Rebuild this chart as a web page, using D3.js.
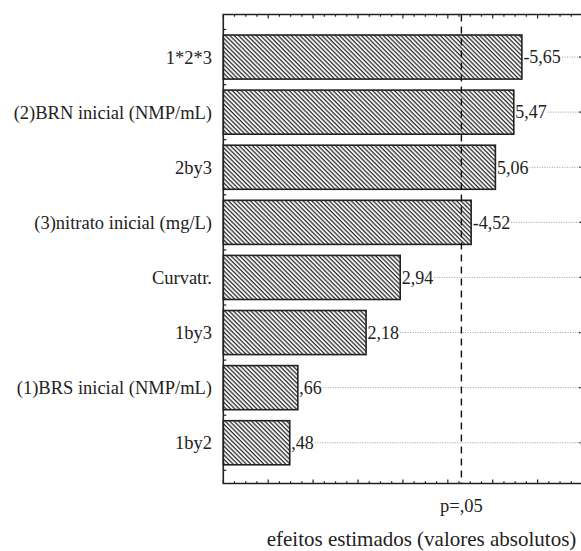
<!DOCTYPE html>
<html>
<head>
<meta charset="utf-8">
<script src="https://cdn.jsdelivr.net/npm/d3@7"></script>
<style>
  html, body { margin: 0; padding: 0; background: #fff; }
  svg { display: block; }
</style>
</head>
<body>
<script>
// ---- data ----
const categories = ["1*2*3", "(2)BRN inicial (NMP/mL)", "2by3", "(3)nitrato inicial (mg/L)",
                    "Curvatr.", "1by3", "(1)BRS inicial (NMP/mL)", "1by2"];
const effects = [-5.65, 5.47, 5.06, -4.52, 2.94, 2.18, 0.66, 0.48];
const pLimit = 4.303;
const pLabel = "p=,05";
const xTitle = "efeitos estimados (valores absolutos)";
const xDomain = [-1, 7];
const tickStep = 0.25;

(function () {
// ---- layout ----
const W = 581, H = 551;
const pL = 223.3, pR = 582.5, pT = 14.5, pB = 483.5;
const FONT = "'Liberation Serif', 'DejaVu Serif', serif";

const svg = d3.select("body").append("svg").attr("width", W).attr("height", H)
  .attr("font-family", FONT).style("font-family", FONT);

const defs = svg.append("defs");
const pat = defs.append("pattern")
  .attr("id", "hatch").attr("patternUnits", "userSpaceOnUse")
  .attr("width", 3.1).attr("height", 3.1)
  .attr("patternTransform", "rotate(-45)");
pat.append("rect").attr("width", 3.1).attr("height", 3.1).attr("fill", "#fff");
pat.append("line").attr("x1", 1).attr("y1", 0).attr("x2", 1).attr("y2", 3.1)
  .attr("stroke", "#2a2a2a").attr("stroke-width", 1.3);

const x = d3.scaleLinear().domain(xDomain).range([pL, pR]);
const y = d3.scaleBand().domain(categories).range([29.5, 470.3])
  .paddingInner(0.2).paddingOuter(0.1);

const fmt = v => {
  let s = Math.abs(v).toFixed(2).replace(".", ",");
  if (s.startsWith("0")) s = s.slice(1);
  return (v < 0 ? "-" : "") + s;
};

// ticks
const ticks = d3.range(xDomain[0], xDomain[1] + 1e-9, tickStep);
const isMajor = t => Math.abs(t - Math.round(t)) < 1e-9;
const tg = svg.append("g").attr("stroke", "#222").attr("stroke-width", 1.2);
ticks.forEach(t => {
  const len = isMajor(t) ? 4 : 2.2;
  tg.append("line").attr("x1", x(t)).attr("x2", x(t)).attr("y1", pT).attr("y2", pT + len);
  tg.append("line").attr("x1", x(t)).attr("x2", x(t)).attr("y1", pB).attr("y2", pB - len);
});
// left ticks at band boundaries
const half = y.step() * y.paddingInner() / 2;
const bounds = categories.map(c => y(c) - half);
bounds.push(y(categories[categories.length - 1]) + y.bandwidth() + half);
bounds.forEach(b => {
  tg.append("line").attr("x1", pL).attr("x2", pL + 3).attr("y1", b).attr("y2", b);
});

// bars
const data = categories.map((c, i) => ({ c, v: effects[i] }));
svg.append("g").selectAll("rect").data(data).join("rect")
  .attr("x", pL)
  .attr("y", d => y(d.c))
  .attr("width", d => x(Math.abs(d.v)) - pL)
  .attr("height", y.bandwidth())
  .attr("fill", "url(#hatch)")
  .attr("stroke", "#222").attr("stroke-width", 1.6);

// value labels + dotted leaders
const lg = svg.append("g");
data.forEach(d => {
  const cy = y(d.c) + y.bandwidth() / 2;
  const t = lg.append("text")
    .attr("x", x(Math.abs(d.v)) + 1.5)
    .attr("y", cy).attr("dy", "0.35em").attr("fill", "#222")
    .attr("font-size", 18).text(fmt(d.v));
  const end = x(Math.abs(d.v)) + 1.5 + t.node().getComputedTextLength() + 1;
  lg.append("line").attr("x1", end).attr("x2", W).attr("y1", cy).attr("y2", cy)
    .attr("stroke", "#9a9a9a").attr("stroke-width", 1).attr("stroke-dasharray", "1,1.5");
  // right-axis tick at category centre
  tg.append("line").attr("x1", pR).attr("x2", pR - 3.5).attr("y1", cy).attr("y2", cy);
});

// category labels
svg.append("g").selectAll("text").data(data).join("text")
  .attr("x", 212).attr("y", d => y(d.c) + y.bandwidth() / 2).attr("dy", "0.35em")
  .attr("text-anchor", "end").attr("font-size", 18.5).attr("fill", "#222").text(d => d.c);

// p limit
svg.append("line").attr("x1", x(pLimit)).attr("x2", x(pLimit)).attr("y1", pT).attr("y2", pB)
  .attr("stroke", "#111").attr("stroke-width", 1.4).attr("stroke-dasharray", "7,5");
svg.append("text").attr("x", x(pLimit)).attr("y", 512).attr("text-anchor", "middle")
  .attr("font-size", 18.5).attr("fill", "#222").text(pLabel);

// frame
svg.append("path")
  .attr("d", `M${pR},${pT}H${pL}V${pB}H${pR}`)
  .attr("fill", "none").attr("stroke", "#222").attr("stroke-width", 1.6);

// axis title
svg.append("text").attr("x", 421.5).attr("y", 546).attr("text-anchor", "middle")
  .attr("font-size", 21).attr("fill", "#222").text(xTitle);
})();
</script>
</body>
</html>
